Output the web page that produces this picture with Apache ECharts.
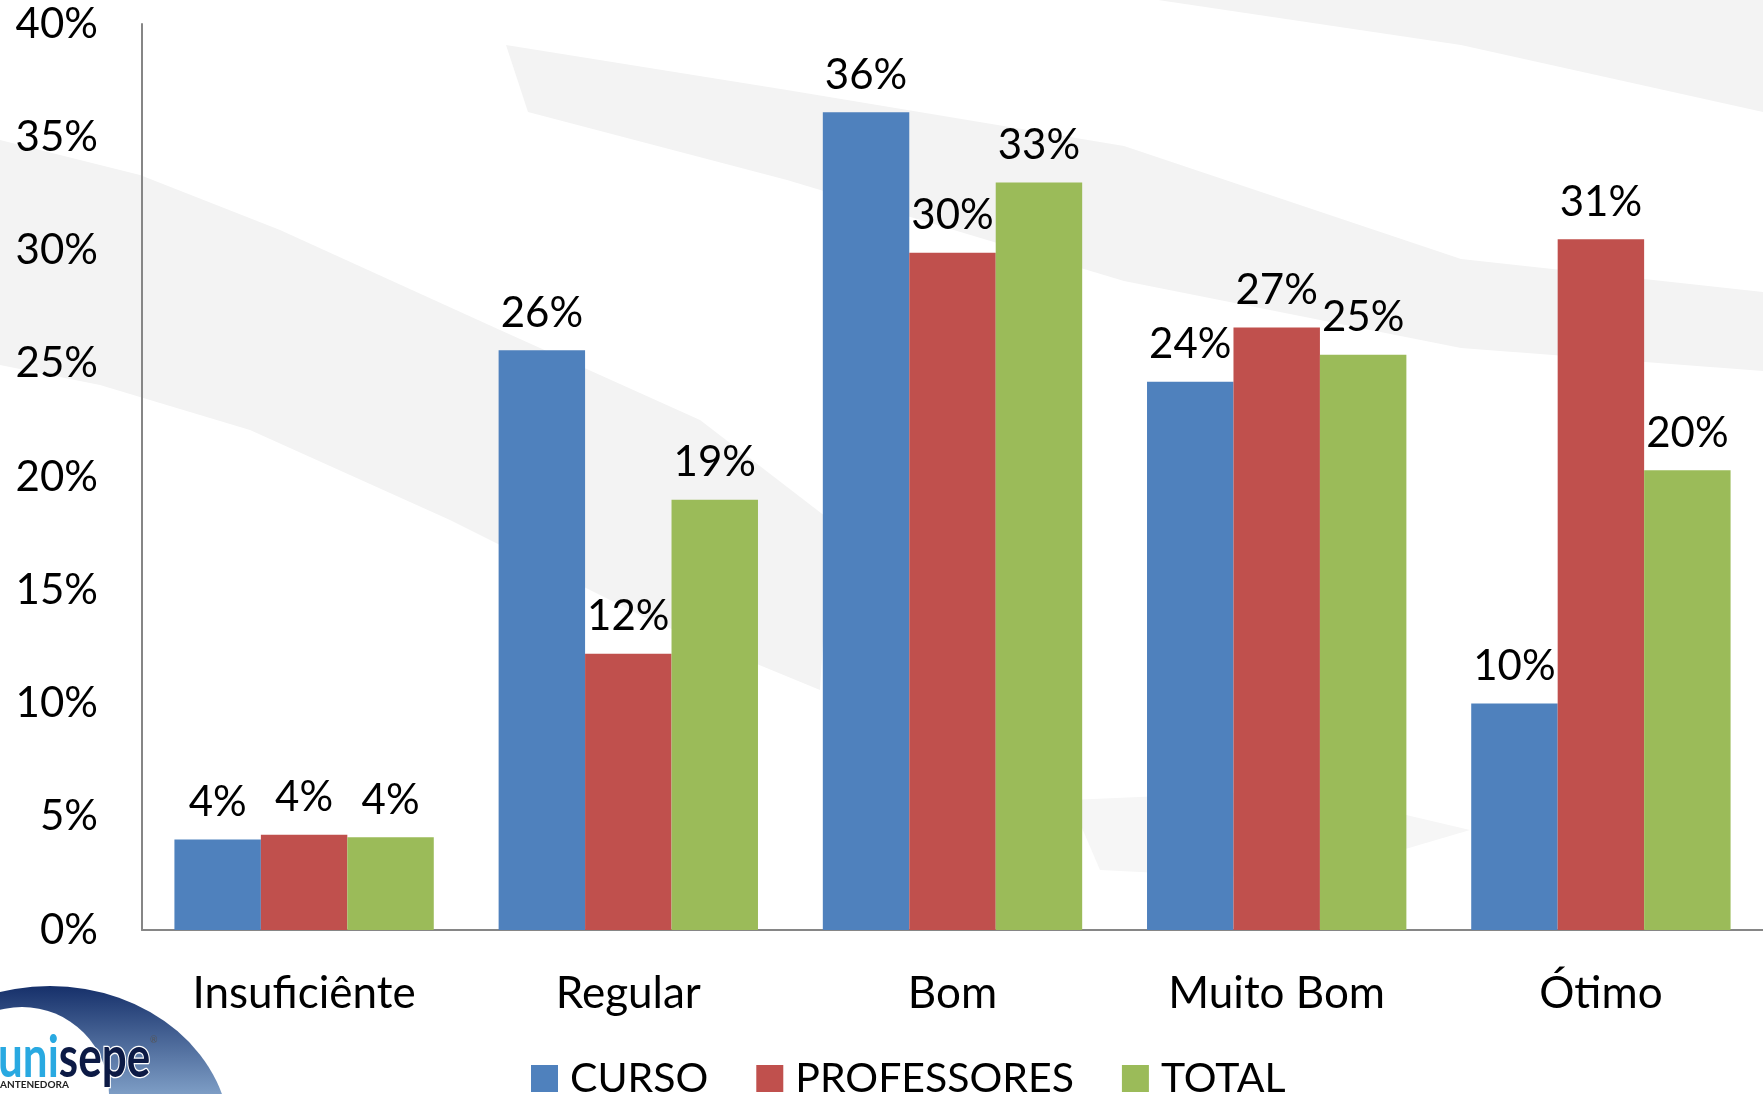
<!DOCTYPE html>
<html>
<head>
	<meta charset="utf-8" />
	<title>Avaliação</title>
	<script src="https://cdn.jsdelivr.net/npm/echarts@6/dist/echarts.min.js"></script>
	<style>
		html, body { margin: 0; padding: 0; background: #fff; }
		#main { width: 1763px; height: 1094px; }
	</style>
</head>
<body>
	<div id="main"></div>
	<script type="text/javascript">
		// categorias e séries
		var categorias = ['Insuficiênte', 'Regular', 'Bom', 'Muito Bom', 'Ótimo'];
		var curso = [0.040, 0.256, 0.361, 0.242, 0.100];
		var professores = [0.042, 0.122, 0.299, 0.266, 0.305];
		var total = [0.041, 0.190, 0.330, 0.254, 0.203];
		var ticksY = [0, 0.05, 0.10, 0.15, 0.20, 0.25, 0.30, 0.35, 0.40];

		var fonte = 'Lato, "Open Sans", sans-serif';

		function pct(v) {
			return Math.round(v * 100) + '%';
		}

		function serie(nome, dados, cor) {
			return {
				name: nome,
				type: 'bar',
				data: dados,
				barGap: '0%',
				barCategoryGap: '20%',
				itemStyle: { color: cor },
				label: {
					show: true,
					position: 'top',
					distance: 16,
					color: '#000',
					fontFamily: fonte,
					fontSize: 42,
					formatter: function (p) { return pct(p.value); }
				}
			};
		}

		var myChart = echarts.init(document.getElementById('main'));

		var option = {
			backgroundColor: '#fff',
			animation: false,
			graphic: [
				// manchas de fundo (pinceladas)
				{ type: 'polygon', z: -10, shape: { points: [[0, 140], [140, 175], [280, 230], [500, 330], [700, 420], [830, 520], [820, 690], [650, 620], [450, 520], [250, 430], [100, 385], [0, 365]] }, style: { fill: '#f3f3f3' } },
				{ type: 'polygon', z: -10, shape: { points: [[506, 45], [787, 90], [1124, 146], [1461, 259], [1763, 292], [1763, 371], [1461, 348], [1124, 281], [787, 180], [528, 112]] }, style: { fill: '#f3f3f3' } },
				{ type: 'polygon', z: -10, shape: { points: [[1158, 0], [1763, 0], [1763, 112], [1461, 45]] }, style: { fill: '#f3f3f3' } },
				{ type: 'polygon', z: -10, shape: { points: [[1070, 800], [1300, 790], [1470, 830], [1300, 880], [1100, 870]] }, style: { fill: '#f6f6f6' } },
				// logo
				{
					type: 'circle', z: 5, x: 50, y: 1140, scaleX: 1.17,
					shape: { cx: 0, cy: 0, r: 154 },
					style: {
						fill: new echarts.graphic.LinearGradient(0, 0, 0, 1, [
							{ offset: 0, color: '#16306a' },
							{ offset: 0.35, color: '#7d9dc5' },
							{ offset: 0.7, color: '#2d5b9a' },
							{ offset: 1, color: '#1f4788' }
						])
					}
				},
				{ type: 'circle', z: 6, shape: { cx: 22, cy: 1094, r: 87 }, style: { fill: '#fff' } },
				{
					type: 'text', z: 7, x: -2, y: 1030, scaleY: 1.3,
					style: {
						text: '{a|uni}{b|sepe}',
						rich: {
							a: { fill: '#29a9e1', font: 'bold 44px ' + fonte },
							b: { fill: '#0c1a45', font: 'bold 44px ' + fonte, stroke: '#fff', lineWidth: 2 }
						}
					}
				},
				{ type: 'text', z: 7, x: 150, y: 1036, style: { text: '®', fill: '#555', font: '9px ' + fonte } },
				{ type: 'text', z: 7, x: 0, y: 1080, style: { text: 'ANTENEDORA', fill: '#222', font: 'bold 10px ' + fonte } }
			],
			legend: {
				data: ['CURSO', 'PROFESSORES', 'TOTAL'],
				left: 526,
				top: 1053,
				itemWidth: 27,
				itemHeight: 27,
				itemGap: 48,
				icon: 'rect',
				textStyle: { fontFamily: fonte, fontSize: 41, color: '#000', padding: [0, 0, 0, 7] }
			},
			grid: {
				left: 142,
				right: 0,
				top: 24,
				bottom: 164,
				containLabel: false
			},
			xAxis: {
				type: 'category',
				data: categorias,
				axisLine: { show: true, lineStyle: { color: '#868686', width: 2 } },
				axisTick: { show: false },
				axisLabel: { color: '#000', fontFamily: fonte, fontSize: 44, margin: 42 }
			},
			yAxis: {
				type: 'value',
				min: ticksY[0],
				max: ticksY[ticksY.length - 1],
				interval: 0.05,
				axisLine: { show: true, lineStyle: { color: '#868686', width: 2 } },
				axisTick: { show: false },
				splitLine: { show: false },
				axisLabel: {
					color: '#000',
					fontFamily: fonte,
					fontSize: 42,
					margin: 44,
					formatter: function (v) { return pct(v); }
				}
			},
			series: [
				serie('CURSO', curso, '#4F81BD'),
				serie('PROFESSORES', professores, '#C0504D'),
				serie('TOTAL', total, '#9BBB59')
			]
		};

		myChart.setOption(option);
	</script>
</body>
</html>
